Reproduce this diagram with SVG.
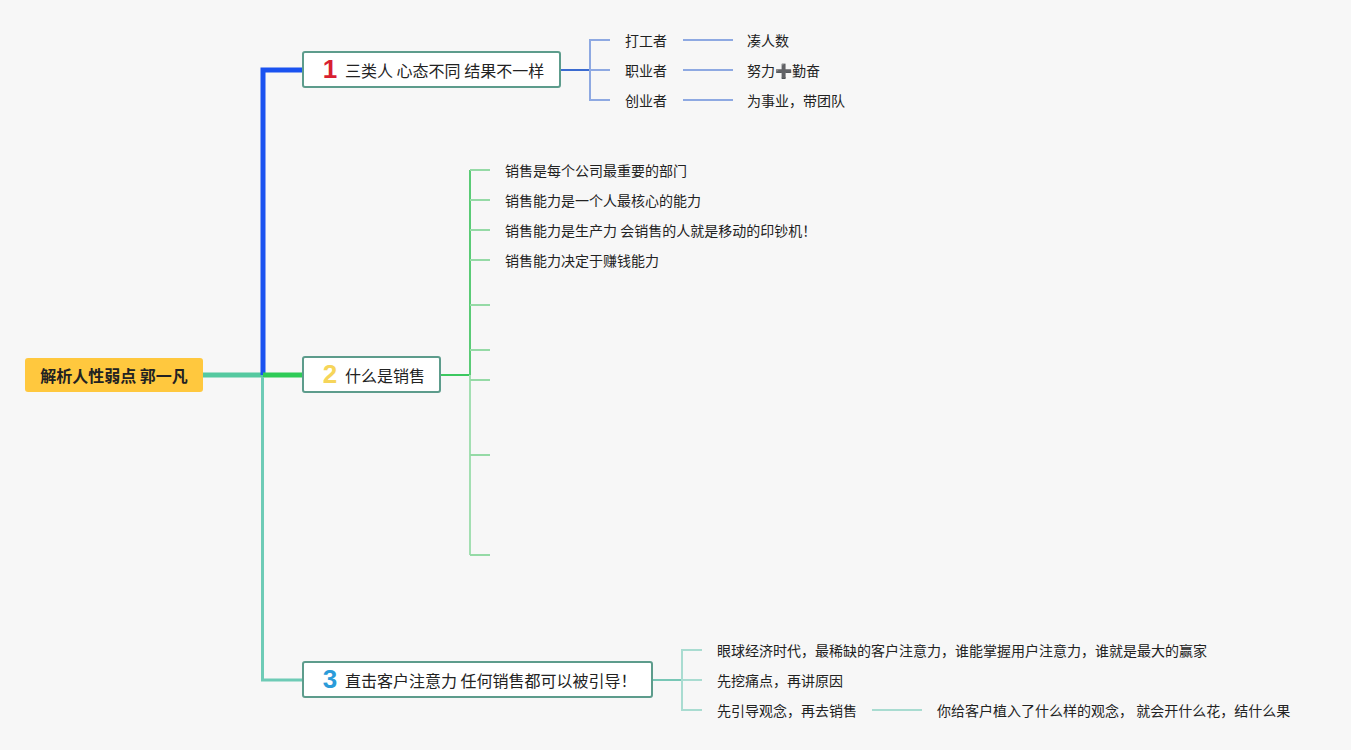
<svg xmlns="http://www.w3.org/2000/svg" width="1351" height="750" viewBox="0 0 1351 750">
<style>
.t{font-family:"Noto Sans CJK SC","Noto Sans",sans-serif;fill:#222;dominant-baseline:central}
.main{font-size:16px}
.sub{font-size:14px}
.num{font-family:"Liberation Sans",Arial,sans-serif;font-weight:bold;font-size:26px;text-anchor:middle;dominant-baseline:central}
.box{fill:#fff;stroke:#5d9c8c;stroke-width:2}
.ln{fill:none;stroke-linecap:butt}
</style>
<rect width="1351" height="750" fill="#f7f7f7"/>
<g id="connectors">
  <path class="ln" d="M203 375 H263" stroke="#55c9a0" stroke-width="5"/>
  <path class="ln" d="M263 375 V70 H303" stroke="#1a52f0" stroke-width="5"/>
  <path class="ln" d="M263 375 H303" stroke="#2ecb57" stroke-width="5"/>
  <path class="ln" d="M262.5 377 V680 H303" stroke="#6ecbb6" stroke-width="3"/>
  <!-- branch 1 -->
  <path class="ln" d="M560 70 H590" stroke="#3b6bd0" stroke-width="2"/>
  <path class="ln" d="M610 40 H590 V100 H610 M590 70 H610" stroke="#8ea9e2" stroke-width="2"/>
  <path class="ln" d="M683 40 H733 M683 70 H733 M683 100 H733" stroke="#8ea9e2" stroke-width="2"/>
  <!-- branch 2 -->
  <path class="ln" d="M440 375 H470" stroke="#3cc860" stroke-width="2"/>
  <path class="ln" d="M470 375 V170" stroke="#5acb76" stroke-width="2"/>
  <path class="ln" d="M470 375 V555" stroke="#a3dfb2" stroke-width="2"/>
  <path class="ln" d="M470 170 H490 M470 200 H490 M470 230 H490 M470 260 H490 M470 305 H490 M470 350 H490 M470 380 H490 M470 455 H490 M470 555 H490" stroke="#95daa6" stroke-width="2"/>
  <!-- branch 3 -->
  <path class="ln" d="M652 680 H682" stroke="#78c7b6" stroke-width="2"/>
  <path class="ln" d="M702 650 H682 V710 H702 M682 680 H702" stroke="#a9dcd1" stroke-width="2"/>
  <path class="ln" d="M872 710 H922" stroke="#a9dcd1" stroke-width="2"/>
</g>
<g id="root">
  <rect x="25" y="358" width="178" height="34" rx="3" fill="#ffc83e"/>
  <text class="t" x="114" y="375" font-size="16" font-weight="bold" text-anchor="middle" fill="#1a1a1a">解析人性弱点 郭一凡</text>
</g>
<g id="node1">
  <rect class="box" x="303" y="52" width="257" height="35" rx="2"/>
  <text class="num" x="330" y="68.5" fill="#d81f31">1</text>
  <text class="t main" x="345" y="70">三类人 心态不同 结果不一样</text>
</g>
<g id="node1-1"><text class="t sub" x="625" y="40">打工者</text></g>
<g id="node1-2"><text class="t sub" x="625" y="70">职业者</text></g>
<g id="node1-3"><text class="t sub" x="625" y="100">创业者</text></g>
<g id="node1-1-1"><text class="t sub" x="747" y="40">凑人数</text></g>
<g id="node1-2-1"><text class="t sub" x="747" y="70">努力➕勤奋</text></g>
<g id="node1-3-1"><text class="t sub" x="747" y="100">为事业，带团队</text></g>
<g id="node2">
  <rect class="box" x="303" y="357" width="137" height="35" rx="2"/>
  <text class="num" x="330" y="373.5" fill="#f6d55a">2</text>
  <text class="t main" x="345" y="375">什么是销售</text>
</g>
<g id="node2-1"><text class="t sub" x="505" y="170">销售是每个公司最重要的部门</text></g>
<g id="node2-2"><text class="t sub" x="505" y="200">销售能力是一个人最核心的能力</text></g>
<g id="node2-3"><text class="t sub" x="505" y="230">销售能力是生产力 会销售的人就是移动的印钞机！</text></g>
<g id="node2-4"><text class="t sub" x="505" y="260">销售能力决定于赚钱能力</text></g>
<g id="node3">
  <rect class="box" x="303" y="662" width="349" height="35" rx="2"/>
  <text class="num" x="330" y="678.5" fill="#2b9bd9">3</text>
  <text class="t main" x="345" y="680">直击客户注意力 任何销售都可以被引导！</text>
</g>
<g id="node3-1"><text class="t sub" x="717" y="650">眼球经济时代，最稀缺的客户注意力，谁能掌握用户注意力，谁就是最大的赢家</text></g>
<g id="node3-2"><text class="t sub" x="717" y="680">先挖痛点，再讲原因</text></g>
<g id="node3-3"><text class="t sub" x="717" y="710">先引导观念，再去销售</text></g>
<g id="node3-3-1"><text class="t sub" x="937" y="710">你给客户植入了什么样的观念， 就会开什么花，结什么果</text></g>
</svg>
